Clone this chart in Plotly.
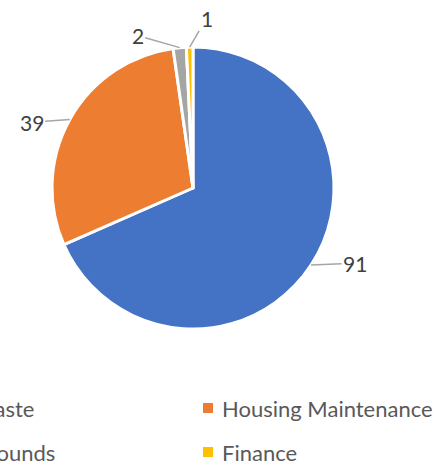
import math
import plotly.graph_objects as go

categories = ["Waste", "Housing Maintenance", "Grounds", "Finance"]
values = [91, 39, 2, 1]
colors = ["#4472C4", "#ED7D31", "#A5A5A5", "#FFC000"]

W, H = 447, 461
FONT = "Lato"

# pie geometry (pixels)
cx, cy, r = 193, 188, 141
dom_x = [(cx - r) / W, (cx + r) / W]
dom_y = [1 - (cy + r) / H, 1 - (cy - r) / H]

fig = go.Figure()
fig.add_trace(go.Pie(
    labels=categories, values=values, sort=False, direction="clockwise",
    rotation=0, marker=dict(colors=colors, line=dict(color="white", width=3)),
    textinfo="none", hoverinfo="label+value", showlegend=False,
    domain=dict(x=dom_x, y=dom_y),
))

# data labels with leader lines, placed from the slice mid-angles
label_offsets = [(44, -2), (-38, 3), (-42, -12), (17, -29)]
total = sum(values)
cum = 0
annotations = []
for v, (ox, oy) in zip(values, label_offsets):
    mid = (cum + v / 2) / total * 2 * math.pi
    cum += v
    ex = cx + r * math.sin(mid)
    ey = cy - r * math.cos(mid)
    annotations.append(dict(
        x=ex / W, y=1 - ey / H, xref="paper", yref="paper",
        text=str(v), showarrow=True, arrowhead=0, arrowwidth=1.5,
        arrowcolor="#A6A6A6", ax=ox, ay=oy, standoff=0,
        font=dict(family=FONT, size=21, color="#404040"),
    ))

# legend (two columns; the left column runs off the left edge as in the reference)
col_x = [-46, 203]
row_y = [408, 452]
shapes = []
for i, (name, c) in enumerate(zip(categories, colors)):
    mx = col_x[i % 2]
    my = row_y[i // 2]
    shapes.append(dict(type="rect", xref="paper", yref="paper",
                       x0=mx / W, x1=(mx + 10) / W,
                       y0=1 - (my + 5) / H, y1=1 - (my - 5) / H,
                       fillcolor=c, line=dict(width=0)))
    annotations.append(dict(
        x=(mx + 17) / W, y=1 - my / H, xref="paper", yref="paper",
        text=name, showarrow=False, xanchor="left", yanchor="middle",
        font=dict(family=FONT, size=22, color="#595959"),
    ))

fig.update_layout(
    width=W, height=H, margin=dict(l=0, r=0, t=0, b=0, autoexpand=False),
    paper_bgcolor="white", plot_bgcolor="white",
    annotations=annotations, shapes=shapes, showlegend=False,
)
fig.write_html("out.html", config={"displayModeBar": False},
               post_script="document.body.style.margin='0';document.body.style.overflow='hidden';")
